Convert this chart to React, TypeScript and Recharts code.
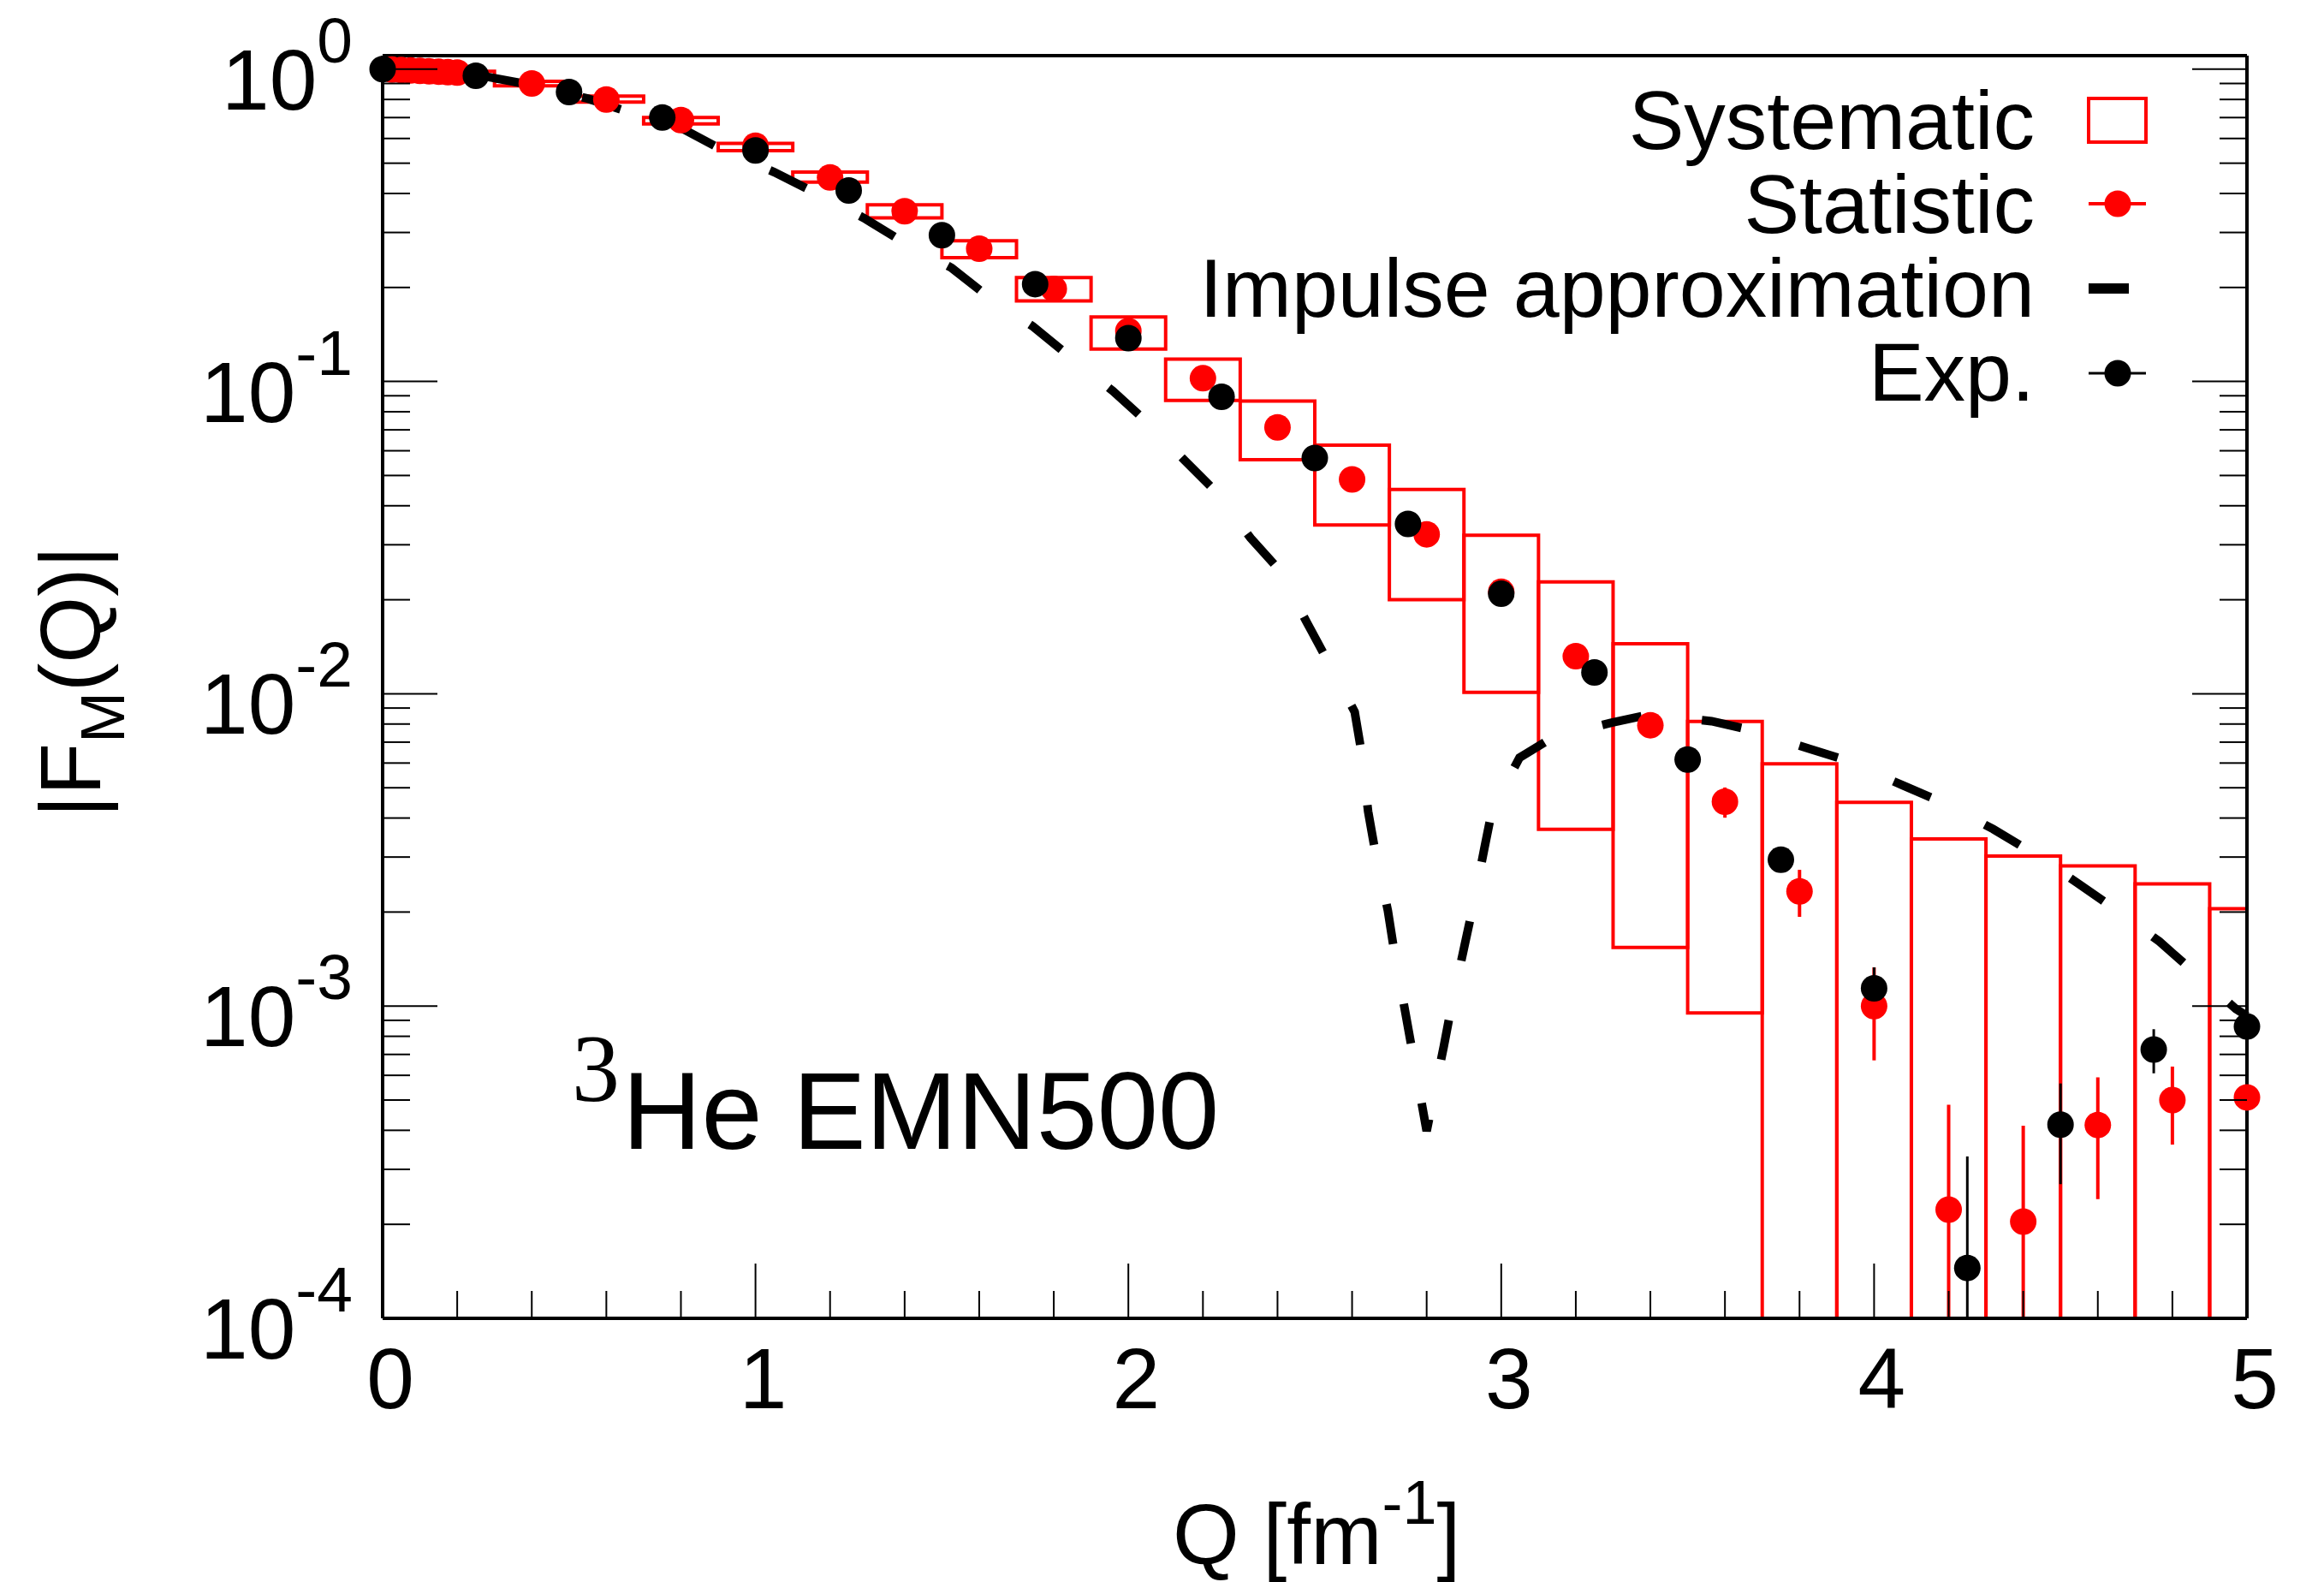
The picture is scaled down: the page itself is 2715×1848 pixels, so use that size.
import React from 'react';
import {
  ComposedChart,
  XAxis,
  YAxis,
  Scatter,
  Line,
  ErrorBar,
  ReferenceArea,
  Legend,
} from 'recharts';

const W = 2715;
const H = 1848;
const FONT = '"Liberation Sans", Arial, Helvetica, sans-serif';
const RED = '#ff0000';

// axis ranges
const X_MIN = 0;
const X_MAX = 5;
const Y_MIN = 1e-4;
const Y_MAX = 1.105;

// Exp. (black points)
const EXP_Q = [0, 0.25, 0.5, 0.75, 1, 1.25, 1.5, 1.75, 2, 2.25, 2.5, 2.75, 3, 3.25, 3.5, 3.75, 4, 4.25, 4.5, 4.75, 5];
const EXP_F = [1.0, 0.953, 0.845, 0.70, 0.549, 0.409, 0.294, 0.205, 0.1376, 0.0893, 0.0569, 0.035, 0.0209, 0.0117, 0.00616, 0.00294, 0.00114, 1.45e-4, 4.17e-4, 7.26e-4, 8.6e-4];
const EXP_ERR = [0, 0, 0, 0, 0, 0, 0, 0, 0, 0, 0, 0, 0, 0, 0, 0, 1.9e-4, 1.85e-4, 1.48e-4, 1.17e-4, 1.0e-4];

// Statistic (red points)
const STAT_Q = [0.025, 0.05, 0.075, 0.1, 0.125, 0.15, 0.175, 0.2, 0.4, 0.6, 0.8, 1.0, 1.2, 1.4, 1.6, 1.8, 2.0, 2.2, 2.4, 2.6, 2.8, 3.0, 3.2, 3.4, 3.6, 3.8, 4.0, 4.2, 4.4, 4.6, 4.8, 5.0];
const STAT_F = [0.997, 0.994, 0.991, 0.988, 0.985, 0.982, 0.978, 0.975, 0.90, 0.80, 0.687, 0.569, 0.45, 0.351, 0.266, 0.198, 0.145, 0.1024, 0.0713, 0.0486, 0.0324, 0.0212, 0.0132, 0.00793, 0.00451, 0.00233, 1.0e-3, 2.23e-4, 2.04e-4, 4.16e-4, 5.0e-4, 5.1e-4];
const STAT_ERR = [0, 0, 0, 0, 0, 0, 0, 0, 0, 0, 0, 0, 0, 0, 0, 0, 0, 0, 0, 0, 0, 0, 0, 0, 5e-4, 4e-4, 3.3e-4, 2.6e-4, 2.1e-4, 1.75e-4, 1.4e-4, 1.3e-4];

// Systematic boxes (null = below the axis)
const SYS_Q = [0.2, 0.4, 0.6, 0.8, 1.0, 1.2, 1.4, 1.6, 1.8, 2.0, 2.2, 2.4, 2.6, 2.8, 3.0, 3.2, 3.4, 3.6, 3.8, 4.0, 4.2, 4.4, 4.6, 4.8, 5.0];
const SYS_DQ = 0.1;
const SYS_HI = [0.985, 0.915, 0.82, 0.70, 0.579, 0.468, 0.368, 0.282, 0.215, 0.161, 0.118, 0.0866, 0.0625, 0.0451, 0.0322, 0.0228, 0.01445, 0.00815, 0.00597, 0.00449, 0.00343, 0.00302, 0.00281, 0.00246, 0.00205];
const SYS_LO = [0.955, 0.885, 0.785, 0.668, 0.548, 0.435, 0.334, 0.249, 0.181, 0.127, 0.0869, 0.0562, 0.0347, 0.020, 0.0101, 0.00368, 0.00154, 0.00095, null, null, null, null, null, null, null];

// Impulse approximation (dashed)
const IA_Q = [0, 0.12, 0.28, 0.39, 0.55, 0.65, 0.8, 0.9, 1.05, 1.15, 1.29, 1.385, 1.526, 1.614, 1.744, 1.836, 1.958, 2.043, 2.152, 2.232, 2.328, 2.4, 2.479, 2.529, 2.607, 2.625, 2.643, 2.662, 2.696, 2.713, 2.742, 2.761, 2.8, 2.846, 2.866, 2.901, 2.923, 2.955, 2.976, 3.049, 3.141, 3.294, 3.4, 3.564, 3.666, 3.825, 3.92, 4.077, 4.172, 4.319, 4.413, 4.545, 4.64, 4.765, 4.853, 4.97, 5.0];
const IA_F = [0.995, 0.982, 0.946, 0.894, 0.805, 0.736, 0.649, 0.56, 0.468, 0.408, 0.334, 0.285, 0.231, 0.191, 0.15, 0.122, 0.0933, 0.0755, 0.0557, 0.0447, 0.0315, 0.0253, 0.0169, 0.0131, 0.00875, 0.00652, 0.0042, 0.00313, 0.00202, 0.0015, 0.000966, 0.000723, 0.000398, 0.000743, 0.000991, 0.00155, 0.00205, 0.00321, 0.00427, 0.00624, 0.00729, 0.00807, 0.00859, 0.00817, 0.00767, 0.00667, 0.00615, 0.00509, 0.00455, 0.00369, 0.00316, 0.00248, 0.00207, 0.00161, 0.0013, 0.00098, 0.00093];

// ticks
const X_TICKS = [0, 0.2, 0.4, 0.6, 0.8, 1, 1.2, 1.4, 1.6, 1.8, 2, 2.2, 2.4, 2.6, 2.8, 3, 3.2, 3.4, 3.6, 3.8, 4, 4.2, 4.4, 4.6, 4.8, 5];
const Y_DECADES = [1e-4, 1e-3, 1e-2, 1e-1, 1];
const Y_MINOR_MULT = [2, 3, 4, 5, 6, 7, 8, 9];
const Y_TICKS = [
  ...Y_DECADES,
  ...Y_DECADES.flatMap((d) => Y_MINOR_MULT.map((m) => d * m)).filter((v) => v < Y_MAX),
];

const LEGEND_LABELS = ['Systematic', 'Statistic', 'Impulse approximation', 'Exp.'];

const clampLow = (v: number, e: number) => Math.min(e, v - Y_MIN);

const expRows = EXP_Q.map((q, i) => ({ q, v: EXP_F[i], err: [clampLow(EXP_F[i], EXP_ERR[i]), EXP_ERR[i]] }));
const statRows = STAT_Q.map((q, i) => ({ q, v: STAT_F[i], err: [clampLow(STAT_F[i], STAT_ERR[i]), STAT_ERR[i]] }));
const iaRows = IA_Q.map((q, i) => ({ q, v: IA_F[i] }));

const AXIS = { stroke: '#000', strokeWidth: 4 };
const MAJOR = 64;
const MINOR = 32;

const isMajorX = (v: number) => Math.abs(v - Math.round(v)) < 1e-9;
const isMajorY = (v: number) => Y_DECADES.some((d) => Math.abs(v / d - 1) < 1e-9);

const BottomTick = (props: any) => {
  const { x, y, payload } = props;
  const major = isMajorX(payload.value);
  return (
    <g>
      <line x1={x} x2={x} y1={y} y2={y - (major ? MAJOR : MINOR)} stroke="#000" strokeWidth={2} />
      {major && (
        <text x={x + 9} y={y + 105} textAnchor="middle" fontSize={100} fontFamily={FONT} fill="#000">
          {payload.value}
        </text>
      )}
    </g>
  );
};

const TopTick = (props: any) => {
  const { x, y, payload } = props;
  const major = isMajorX(payload.value);
  return <line x1={x} x2={x} y1={y} y2={y + (major ? MAJOR : MINOR)} stroke="#000" strokeWidth={2} />;
};

const LeftTick = (props: any) => {
  const { x, y, payload } = props;
  const major = isMajorY(payload.value);
  const exp = Math.round(Math.log10(payload.value));
  return (
    <g>
      <line x1={x} x2={x + (major ? MAJOR : MINOR)} y1={y} y2={y} stroke="#000" strokeWidth={2} />
      {major && (
        <text x={x - 35} y={y + 47} textAnchor="end" fontSize={100} fontFamily={FONT} fill="#000">
          10
          <tspan dy={-55} fontSize={75}>
            {exp < 0 ? `-${-exp}` : `${exp}`}
          </tspan>
        </text>
      )}
    </g>
  );
};

const RightTick = (props: any) => {
  const { x, y, payload } = props;
  const major = isMajorY(payload.value);
  return <line x1={x} x2={x - (major ? MAJOR : MINOR)} y1={y} y2={y} stroke="#000" strokeWidth={2} />;
};

const RedDot = (p: any) => <circle cx={p.cx} cy={p.cy} r={15.5} fill={RED} />;
const BlackDot = (p: any) => <circle cx={p.cx} cy={p.cy} r={15.5} fill="#000" />;

const LegendContent = () => {
  const textX = 2377;
  const symX = 2440;
  const baselines = [174, 272, 370, 468];
  const centers = [140, 238, 337, 436];
  return (
    <svg width={W} height={520} style={{ position: 'absolute', left: 0, top: 0, overflow: 'visible' }}>
      {LEGEND_LABELS.map((label, i) => (
        <text
          key={label}
          x={textX}
          y={baselines[i]}
          textAnchor="end"
          fontSize={97}
          fontFamily={FONT}
          fill="#000"
        >
          {label}
        </text>
      ))}
      <rect x={symX} y={centers[0] - 25} width={67} height={51} fill="none" stroke={RED} strokeWidth={4} />
      <line x1={symX} x2={symX + 67} y1={centers[1]} y2={centers[1]} stroke={RED} strokeWidth={4} />
      <circle cx={symX + 34} cy={centers[1]} r={15.5} fill={RED} />
      <line x1={symX} x2={symX + 47} y1={centers[2]} y2={centers[2]} stroke="#000" strokeWidth={12} />
      <line x1={symX} x2={symX + 67} y1={centers[3]} y2={centers[3]} stroke="#000" strokeWidth={3} />
      <circle cx={symX + 34} cy={centers[3]} r={15.5} fill="#000" />
    </svg>
  );
};

export default function App() {
  return (
    <div style={{ position: 'absolute', left: 0, top: 0, width: W, height: H, background: '#fff' }}>
      <ComposedChart width={W} height={H} margin={{ top: 0, right: 0, bottom: 108, left: 247 }}>
        <XAxis
          xAxisId="b"
          dataKey="q"
          type="number"
          domain={[X_MIN, X_MAX]}
          ticks={X_TICKS}
          interval={0}
          height={200}
          tickSize={0}
          tickMargin={0}
          tickLine={false}
          axisLine={AXIS}
          tick={BottomTick}
        />
        <XAxis
          xAxisId="t"
          orientation="top"
          type="number"
          domain={[X_MIN, X_MAX]}
          allowDataOverflow
          ticks={X_TICKS}
          interval={0}
          height={65}
          tickSize={0}
          tickMargin={0}
          tickLine={false}
          axisLine={AXIS}
          tick={TopTick}
        />
        <YAxis
          yAxisId="l"
          dataKey="v"
          type="number"
          scale="log"
          domain={[Y_MIN, Y_MAX]}
          ticks={Y_TICKS}
          interval={0}
          width={200}
          tickSize={0}
          tickMargin={0}
          tickLine={false}
          axisLine={AXIS}
          tick={LeftTick}
        />
        <YAxis
          yAxisId="r"
          orientation="right"
          type="number"
          scale="log"
          domain={[Y_MIN, Y_MAX]}
          allowDataOverflow
          ticks={Y_TICKS}
          interval={0}
          width={90}
          tickSize={0}
          tickMargin={0}
          tickLine={false}
          axisLine={AXIS}
          tick={RightTick}
        />

        {SYS_Q.map((q, i) => (
          <ReferenceArea
            key={`sys-${q}`}
            xAxisId="b"
            yAxisId="l"
            x1={q - SYS_DQ}
            x2={q + SYS_DQ}
            y1={SYS_LO[i] ?? Y_MIN / 100}
            y2={SYS_HI[i]}
            ifOverflow="hidden"
            fill="none"
            fillOpacity={0}
            stroke={RED}
            strokeWidth={4}
          />
        ))}

        <Scatter
          xAxisId="b"
          yAxisId="l"
          name="Statistic"
          data={statRows}
          dataKey="v"
          shape={RedDot}
          isAnimationActive={false}
        >
          <ErrorBar dataKey="err" direction="y" width={0} stroke={RED} strokeWidth={4} />
        </Scatter>

        <Line
          xAxisId="b"
          yAxisId="l"
          name="Impulse approximation"
          data={iaRows}
          dataKey="v"
          type="linear"
          stroke="#000"
          strokeWidth={10}
          strokeDasharray="47 71"
          dot={false}
          activeDot={false}
          isAnimationActive={false}
        />

        <Scatter
          xAxisId="b"
          yAxisId="l"
          name="Exp."
          data={expRows}
          dataKey="v"
          shape={BlackDot}
          isAnimationActive={false}
        >
          <ErrorBar dataKey="err" direction="y" width={0} stroke="#000" strokeWidth={3} />
        </Scatter>

        <Legend
          layout="horizontal"
          verticalAlign="middle"
          align="center"
          content={LegendContent}
          wrapperStyle={{ position: 'absolute', left: 0, top: 0, width: W, height: 520, pointerEvents: 'none' }}
        />
      </ComposedChart>

      <svg
        width={W}
        height={H}
        style={{ position: 'absolute', left: 0, top: 0, pointerEvents: 'none' }}
      >
        <text x={1370} y={1827} fontSize={100} fontFamily={FONT} fill="#000">
          Q [fm
          <tspan dy={-47} fontSize={72}>-1</tspan>
          <tspan dy={47} fontSize={100}>]</tspan>
        </text>
        <text transform="rotate(-90)" x={-955} y={117} fontSize={100} fontFamily={FONT} fill="#000">
          |F
          <tspan dy={28} fontSize={72}>M</tspan>
          <tspan dy={-28} fontSize={100}>(Q)|</tspan>
        </text>
        <text x={668} y={1286} fontSize={112} fontFamily='"Liberation Serif", "Times New Roman", serif' fill="#000">
          3
        </text>
        <text x={727} y={1342} fontSize={128} fontFamily={FONT} fill="#000">
          He EMN500
        </text>
      </svg>
    </div>
  );
}
